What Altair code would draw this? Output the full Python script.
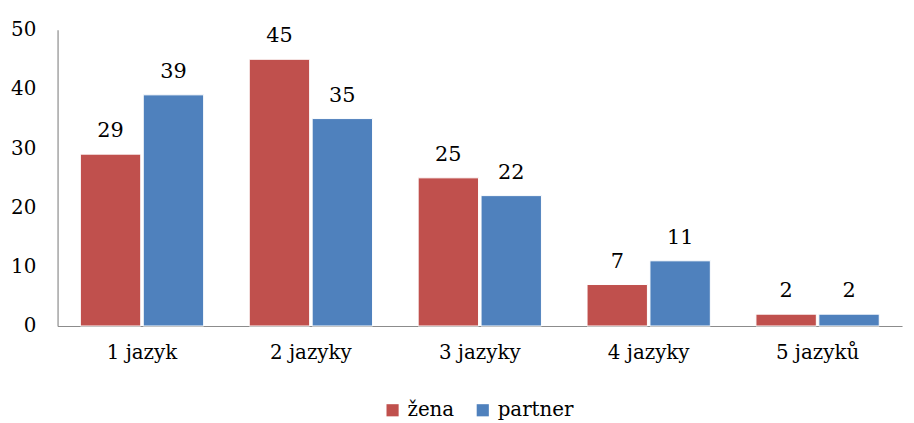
import altair as alt
import pandas as pd

categories = ["1 jazyk", "2 jazyky", "3 jazyky", "4 jazyky", "5 jazyků"]
series = ["žena", "partner"]
zena = [29, 45, 25, 7, 2]
partner = [39, 35, 22, 11, 2]
colors = ["#C0504D", "#4F81BD"]

rows = []
for c, z, p in zip(categories, zena, partner):
    rows.append({"kat": c, "serie": "žena", "hodnota": z})
    rows.append({"kat": c, "serie": "partner", "hodnota": p})
df = pd.DataFrame(rows)

font = "DejaVu Serif"

base = alt.Chart(df).encode(
    x=alt.X("kat:N", sort=categories, title=None,
            scale=alt.Scale(paddingInner=0.27, paddingOuter=0.135),
            axis=alt.Axis(labelAngle=0, labelFont=font, labelFontSize=20, labelColor="#000",
                          ticks=False, labelPadding=17, domainColor="#8c8c8c", domainWidth=1.2)),
    xOffset=alt.XOffset("serie:N", sort=series, scale=alt.Scale(paddingInner=0.04)),
)

bars = base.mark_bar(stroke="white", strokeWidth=1).encode(
    y=alt.Y("hodnota:Q", title=None,
            scale=alt.Scale(domain=[0, 50], nice=False),
            axis=alt.Axis(values=[0, 10, 20, 30, 40, 50], grid=False, ticks=False,
                          labelFont=font, labelFontSize=20, labelColor="#000",
                          labelPadding=22, domainColor="#8c8c8c", domainWidth=1.2)),
    color=alt.Color("serie:N", sort=series,
                    scale=alt.Scale(domain=series, range=colors),
                    legend=alt.Legend(title=None, orient="none", direction="horizontal",
                                      legendX=328, legendY=374, symbolType="square",
                                      symbolSize=150, symbolStrokeWidth=0,
                                      labelFont=font, labelFontSize=20, labelColor="#000",
                                      columnPadding=18, labelOffset=5)),
)

labels = base.mark_text(dy=-13, baseline="bottom", font=font, fontSize=21, color="#000").encode(
    y=alt.Y("hodnota:Q"),
    text=alt.Text("hodnota:Q"),
)

chart = (bars + labels).properties(
    width=852, height=299,
    autosize=alt.AutoSizeParams(type="none"),
    padding={"left": 50, "top": 20, "right": 4, "bottom": 96},
).configure_view(stroke=None)

chart.save("out.html", embed_options={"renderer": "svg", "actions": False})
